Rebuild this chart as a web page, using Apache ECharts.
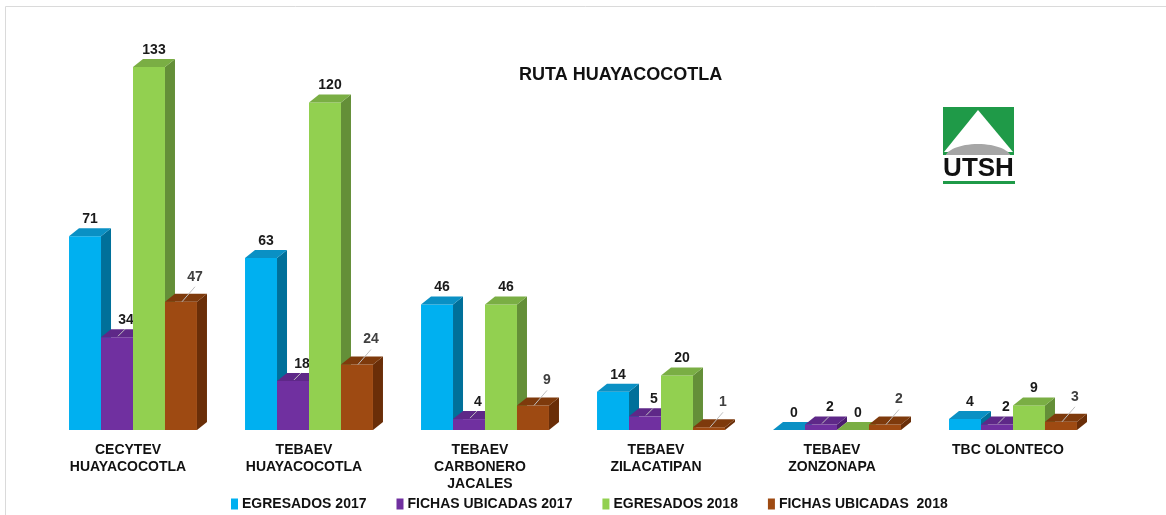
<!DOCTYPE html>
<html>
<head>
<meta charset="utf-8">
<title>Ruta Huayacocotla</title>
<script src="https://cdn.jsdelivr.net/npm/echarts@6/dist/echarts.min.js"></script>
<style>
  html, body { margin: 0; padding: 0; background: #fff; }
  #chart { width: 1166px; height: 515px; }
</style>
</head>
<body>
<div id="chart"></div>
<script>
// data
var categories = [
  "CECYTEV\nHUAYACOCOTLA",
  "TEBAEV\nHUAYACOCOTLA",
  "TEBAEV\nCARBONERO\nJACALES",
  "TEBAEV\nZILACATIPAN",
  "TEBAEV\nZONZONAPA",
  "TBC OLONTECO"
];
var seriesNames = ["EGRESADOS 2017", "FICHAS UBICADAS 2017", "EGRESADOS 2018", "FICHAS UBICADAS  2018"];
var egresados2017 = [71, 63, 46, 14, 0, 4];
var fichas2017 = [34, 18, 4, 5, 2, 2];
var egresados2018 = [133, 120, 46, 20, 0, 9];
var fichas2018 = [47, 24, 9, 1, 2, 3];

// front / side / top colours per series
var palette = [
  { front: "#00B0F0", side: "#00709A", top: "#0A90C4" },
  { front: "#7030A0", side: "#4C1E6E", top: "#5E2888" },
  { front: "#92D050", side: "#648F38", top: "#7AAE44" },
  { front: "#9E4A12", side: "#6A2E08", top: "#7E3A0C" }
];

var GROUP = 0.727; // share of category band used by the 4 bars
var DX = 10, DY = 8; // 3D depth offset

function makeRender(s) {
  return function (params, api) {
    var cat = api.value(0), val = api.value(1);
    var base = api.coord([cat, 0]);
    var top = api.coord([cat, val]);
    var bw = api.size([1, 0])[0] * GROUP / 4;
    var x0 = base[0] + (s - 2) * bw;
    var yb = base[1], yt = top[1];
    var c = palette[s];
    var kids = [
      { type: "polygon", shape: { points: [[x0 + bw, yt], [x0 + bw + DX, yt - DY], [x0 + bw + DX, yb - DY], [x0 + bw, yb]] },
        style: { fill: c.side } },
      { type: "rect", shape: { x: x0, y: yt, width: bw, height: yb - yt }, style: { fill: c.front } },
      { type: "polygon", shape: { points: [[x0, yt], [x0 + DX, yt - DY], [x0 + bw + DX, yt - DY], [x0 + bw, yt]] },
        style: { fill: c.top } }
    ];
    var font = "bold 14px 'Liberation Sans', Arial, sans-serif";
    if (s === 0 || s === 2) {
      kids.push({ type: "text", style: { text: String(val), x: x0 + bw / 2 + DX / 2, y: yt - DY - 2,
        align: "center", verticalAlign: "bottom", font: font, fill: "#1a1a1a" } });
    } else if (s === 1) {
      kids.push({ type: "line", shape: { x1: x0 + 17, y1: yt - 1, x2: x0 + 24, y2: yt - 8 },
        style: { stroke: "#bfbfbf", lineWidth: 1 } });
      kids.push({ type: "text", style: { text: String(val), x: x0 + 25, y: yt - 10,
        align: "center", verticalAlign: "bottom", font: font, fill: "#1a1a1a" } });
    } else {
      kids.push({ type: "line", shape: { x1: x0 + 17, y1: yt, x2: x0 + 30, y2: yt - 15 },
        style: { stroke: "#bfbfbf", lineWidth: 1 } });
      kids.push({ type: "text", style: { text: String(val), x: x0 + 30, y: yt - 18,
        align: "center", verticalAlign: "bottom", font: font, fill: "#404040" } });
    }
    return { type: "group", children: kids };
  };
}

var allValues = [egresados2017, fichas2017, egresados2018, fichas2018];
var series = allValues.map(function (vals, s) {
  return {
    name: seriesNames[s],
    type: "custom",
    renderItem: makeRender(s),
    itemStyle: { color: palette[s].front },
    encode: { x: 0, y: 1 },
    data: vals.map(function (v, i) { return [i, v]; }),
    z: 2
  };
});

var chart = echarts.init(document.getElementById("chart"));
chart.setOption({
  animation: false,
  backgroundColor: "#fff",
  title: {
    text: "RUTA HUAYACOCOTLA",
    left: 514,
    top: 61,
    textStyle: { fontFamily: "'Liberation Sans', Arial", fontWeight: "bold", fontSize: 18, color: "#111" }
  },
  grid: { left: 45, right: 65, top: 48, bottom: 85 },
  legend: {
    left: 226,
    top: 492,
    itemWidth: 7,
    itemHeight: 11,
    itemGap: 30,
    icon: "rect",
    data: seriesNames,
    textStyle: { fontFamily: "'Liberation Sans', Arial", fontWeight: "bold", fontSize: 14, color: "#111", padding: [0, 0, 0, -1] }
  },
  xAxis: {
    type: "category",
    data: categories,
    axisLine: { show: false },
    axisTick: { show: false },
    axisLabel: {
      interval: 0,
      margin: 12,
      padding: [0, 10, 0, 0],
      fontFamily: "'Liberation Sans', Arial",
      fontWeight: "bold",
      fontSize: 14,
      lineHeight: 17,
      color: "#111"
    }
  },
  yAxis: {
    type: "value",
    min: 0,
    max: 140,
    show: false,
    splitLine: { show: false }
  },
  graphic: [
    { type: "line", shape: { x1: 5.5, y1: 6.5, x2: 1166, y2: 6.5 }, style: { stroke: "#dadada", lineWidth: 1 } },
    { type: "line", shape: { x1: 5.5, y1: 6.5, x2: 5.5, y2: 515 }, style: { stroke: "#dadada", lineWidth: 1 } },
    // UTSH logo
    { type: "rect", shape: { x: 943, y: 107, width: 71, height: 48 }, style: { fill: "#1F9A48" } },
    { type: "polygon", shape: { points: [[978, 110], [944, 152], [1013, 152]] }, style: { fill: "#fff" } },
    { type: "ellipse", shape: { cx: 978, cy: 158, rx: 33, ry: 14 }, style: { fill: "#a6a6a6" } },
    { type: "rect", shape: { x: 940, y: 155, width: 78, height: 20 }, style: { fill: "#fff" } },
    { type: "text", style: { text: "UTSH", x: 978.5, y: 169, align: "center", verticalAlign: "middle",
      font: "bold 26px 'Liberation Sans', Arial", fill: "#111" } },
    { type: "rect", shape: { x: 943, y: 181, width: 72, height: 3 }, style: { fill: "#1F9A48" } }
  ],
  series: series
});
</script>
</body>
</html>
